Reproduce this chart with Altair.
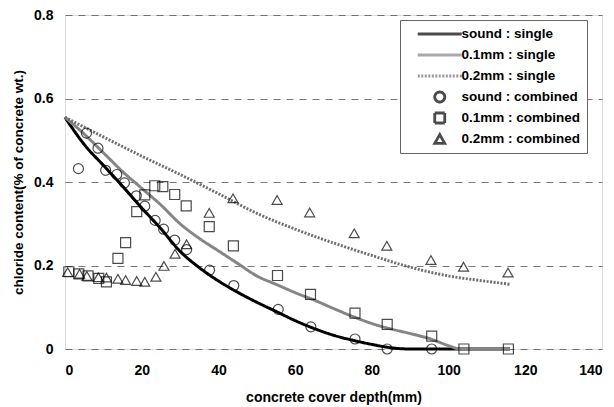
import altair as alt
import pandas as pd

series_names = ["sound : single", "0.1mm : single", "0.2mm : single",
                "sound : combined", "0.1mm : combined", "0.2mm : combined"]

# model curves (single)
sound_single_x = [0, 5, 10, 15, 20, 25, 30, 35, 40, 45, 50, 55, 60, 65, 70, 75, 80, 85, 90, 95, 100, 105, 110, 116]
sound_single_y = [0.555, 0.49, 0.44, 0.39, 0.338, 0.288, 0.234, 0.195, 0.163, 0.136, 0.112, 0.09, 0.068, 0.049,
                  0.033, 0.021, 0.011, 0.003, 0.0, 0.0, 0.0, 0.0, 0.0, 0.0]
mm01_single_x = [0, 5, 10, 15, 20, 25, 30, 35, 40, 45, 50, 55, 60, 65, 70, 75, 80, 85, 90, 95, 100, 103, 110, 116]
mm01_single_y = [0.555, 0.515, 0.47, 0.425, 0.385, 0.345, 0.3, 0.265, 0.235, 0.205, 0.175, 0.155, 0.135, 0.117,
                 0.097, 0.078, 0.061, 0.048, 0.037, 0.025, 0.008, 0.0, 0.0, 0.0]
mm02_single_x = [0, 10, 20, 30, 40, 50, 60, 70, 80, 90, 100, 110, 116]
mm02_single_y = [0.555, 0.508, 0.462, 0.418, 0.372, 0.325, 0.287, 0.254, 0.224, 0.196, 0.175, 0.162, 0.155]

# measured points (combined)
sound_comb_x = [3.5, 5.6, 8.6, 10.6, 13.5, 15.5, 18.6, 20.8, 23.5, 25.7, 28.6, 31.7, 37.7, 44, 55.6, 64.1, 75.6, 84, 95.6]
sound_comb_y = [0.432, 0.517, 0.481, 0.428, 0.418, 0.398, 0.367, 0.342, 0.308, 0.287, 0.261, 0.238, 0.189, 0.152,
                0.095, 0.053, 0.024, 0.0, 0.0]
mm01_comb_x = [1, 3.6, 6, 8.8, 10.8, 13.8, 15.8, 18.7, 20.8, 23.4, 25.5, 28.6, 31.6, 37.6, 43.9, 55.4, 64, 75.6, 84,
               95.6, 104, 115.6]
mm01_comb_y = [0.185, 0.18, 0.175, 0.169, 0.161, 0.217, 0.255, 0.329, 0.369, 0.391, 0.389, 0.37, 0.343, 0.293, 0.247,
               0.176, 0.131, 0.086, 0.059, 0.031, 0.0, 0.0]
mm02_comb_x = [0.7, 3.8, 5.7, 8.7, 10.8, 13.8, 15.8, 18.7, 20.8, 23.7, 25.8, 28.7, 31.7, 37.6, 43.8, 55.3, 63.8, 75.4,
               83.9, 95.4, 103.9, 115.5]
mm02_comb_y = [0.184, 0.18, 0.175, 0.172, 0.171, 0.168, 0.165, 0.163, 0.161, 0.173, 0.199, 0.228, 0.251, 0.326, 0.361,
               0.357, 0.327, 0.277, 0.247, 0.213, 0.197, 0.183]

x_ticks = [0, 20, 40, 60, 80, 100, 120, 140]
y_ticks = [0, 0.2, 0.4, 0.6, 0.8]

lines = pd.concat([
    pd.DataFrame({"x": sound_single_x, "y": sound_single_y, "series": series_names[0]}),
    pd.DataFrame({"x": mm01_single_x, "y": mm01_single_y, "series": series_names[1]}),
    pd.DataFrame({"x": mm02_single_x, "y": mm02_single_y, "series": series_names[2]}),
], ignore_index=True)
points = pd.concat([
    pd.DataFrame({"x": sound_comb_x, "y": sound_comb_y, "series": series_names[3]}),
    pd.DataFrame({"x": mm01_comb_x, "y": mm01_comb_y, "series": series_names[4]}),
    pd.DataFrame({"x": mm02_comb_x, "y": mm02_comb_y, "series": series_names[5]}),
], ignore_index=True)

FONT = "Liberation Sans"

xscale = alt.Scale(domain=[0, 140], nice=False)
yscale = alt.Scale(domain=[0, 0.8], nice=False)

line_shape = "M-4.4,0L4.4,0"
color_scale = alt.Scale(domain=series_names,
                        range=["#000000", "#858585", "#6e6e6e", "#000000", "#000000", "#000000"])
dash_scale = alt.Scale(domain=series_names, range=[[1, 0], [1, 0], [2, 1.5], [1, 0], [1, 0], [1, 0]])
width_scale = alt.Scale(domain=series_names, range=[3, 2.8, 1.6, 1.2, 1.2, 1.2])
shape_scale = alt.Scale(domain=series_names,
                        range=[line_shape, line_shape, line_shape, "circle", "square", "triangle-up"])

legend = alt.Legend(title=None, orient="none", legendX=335, legendY=5, columns=1, clipHeight=16,
                    strokeColor="#666", fillColor="white", padding=6,
                    labelFont=FONT, labelFontWeight="bold", labelFontSize=13.5, labelColor="#000",
                    symbolSize=100, rowPadding=5, symbolOffset=27, labelOffset=15,
                    symbolFillColor="transparent")

x_axis = alt.Axis(title="concrete cover depth(mm)", values=x_ticks, grid=False, domain=False, ticks=False,
                  labelPadding=14, titlePadding=13, labelFont=FONT, labelFontWeight="bold", labelFontSize=14,
                  titleFont=FONT, titleFontWeight="bold", titleFontSize=14, labelColor="#000", titleColor="#000")
y_axis = alt.Axis(title="chloride content(% of concrete wt.)", values=y_ticks, format=".1~f", grid=True,
                  gridDash=[7, 6], gridColor="#555", gridWidth=0.8, domain=False, ticks=False,
                  labelPadding=12, titlePadding=8, labelFont=FONT, labelFontWeight="bold", labelFontSize=14,
                  titleFont=FONT, titleFontWeight="bold", titleFontSize=13.5, labelColor="#000", titleColor="#000")

line_layer = alt.Chart(lines).mark_line(interpolate="monotone").encode(
    x=alt.X("x:Q", scale=xscale, axis=x_axis),
    y=alt.Y("y:Q", scale=yscale, axis=y_axis),
    color=alt.Color("series:N", scale=color_scale, legend=legend),
    strokeDash=alt.StrokeDash("series:N", scale=dash_scale, legend=legend),
    strokeWidth=alt.StrokeWidth("series:N", scale=width_scale, legend=legend),
    order="x:Q",
)

point_layer = alt.Chart(points).mark_point(filled=False, size=100, strokeWidth=1.2).encode(
    x=alt.X("x:Q", scale=xscale, axis=x_axis),
    y=alt.Y("y:Q", scale=yscale, axis=y_axis),
    color=alt.Color("series:N", scale=color_scale, legend=legend),
    shape=alt.Shape("series:N", scale=shape_scale, legend=legend),
)

chart = alt.layer(line_layer, point_layer).properties(
    width=537, height=334,
    autosize=alt.AutoSizeParams(type="none"),
    padding={"left": 65, "top": 15, "right": 12, "bottom": 58},
).configure_view(stroke="#444", strokeWidth=1).configure(background="white")

chart.save("out.html", embed_options={"renderer": "svg", "actions": False})
